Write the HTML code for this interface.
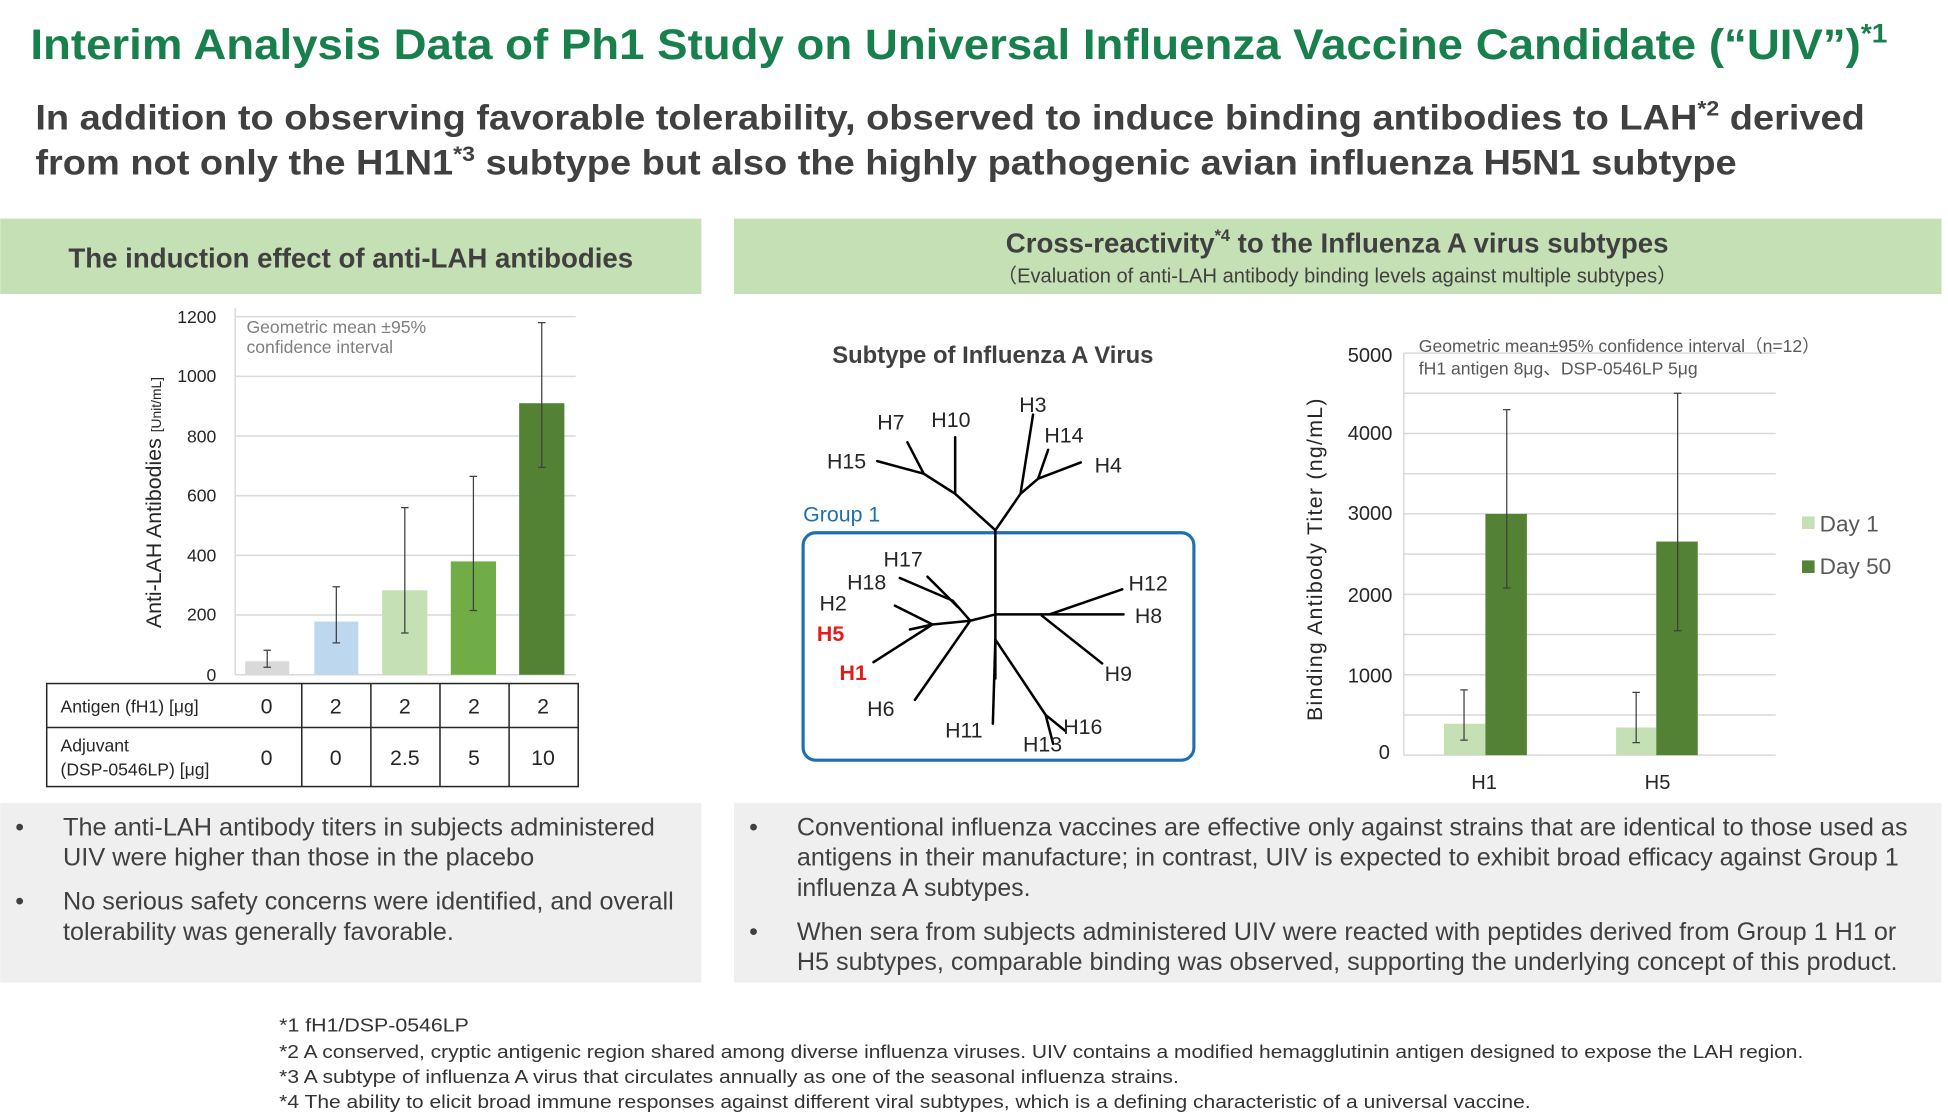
<!DOCTYPE html>
<html><head><meta charset="utf-8"><style>
html,body{margin:0;padding:0;background:#fff;}
svg{display:block;}
text{font-family:"Liberation Sans","Noto Sans CJK JP",sans-serif;}
</style></head><body>
<svg width="1948" height="1112" viewBox="0 0 1550 885" xmlns="http://www.w3.org/2000/svg">
<rect width="1550" height="885" fill="#fff"/>
<!-- Title -->
<text x="24" y="47" font-size="34" font-weight="bold" fill="#17804c" textLength="1478" lengthAdjust="spacingAndGlyphs">Interim Analysis Data of Ph1 Study on Universal Influenza Vaccine Candidate (“UIV”)<tspan font-size="21" dy="-13">*1</tspan></text>
<text x="28" y="103" font-size="28" font-weight="bold" fill="#404040" textLength="1456" lengthAdjust="spacingAndGlyphs">In addition to observing favorable tolerability, observed to induce binding antibodies to LAH<tspan font-size="17" dy="-11">*2</tspan><tspan dy="11"> derived</tspan></text>
<text x="28" y="139" font-size="28" font-weight="bold" fill="#404040" textLength="1354" lengthAdjust="spacingAndGlyphs">from not only the H1N1<tspan font-size="17" dy="-11">*3</tspan><tspan dy="11"> subtype but also the highly pathogenic avian influenza H5N1 subtype</tspan></text>

<!-- Header bands -->
<rect x="0" y="174" width="558" height="60" fill="#c5e0b4"/>
<text x="279" y="213" font-size="22" font-weight="bold" fill="#404040" text-anchor="middle">The induction effect of anti-LAH antibodies</text>
<rect x="584" y="174" width="961" height="60" fill="#c5e0b4"/>
<text x="1064" y="201" font-size="22" font-weight="bold" fill="#404040" text-anchor="middle">Cross-reactivity<tspan font-size="13" dy="-9">*4</tspan><tspan dy="9"> to the Influenza A virus subtypes</tspan></text>
<text x="1064" y="225" font-size="16" fill="#404040" text-anchor="middle">（Evaluation of anti-LAH antibody binding levels against multiple subtypes）</text>

<!-- Left chart -->
<g stroke="#d9d9d9" stroke-width="1.2">
<line x1="187" y1="252" x2="458" y2="252"/><line x1="187" y1="299.5" x2="458" y2="299.5"/>
<line x1="187" y1="347" x2="458" y2="347"/><line x1="187" y1="394.5" x2="458" y2="394.5"/>
<line x1="187" y1="442" x2="458" y2="442"/><line x1="187" y1="489.5" x2="458" y2="489.5"/>
<line x1="187" y1="537" x2="458" y2="537"/><line x1="187" y1="245" x2="187" y2="537"/>
</g>
<g font-size="14" fill="#262626" text-anchor="end">
<text x="172" y="257">1200</text><text x="172" y="304">1000</text><text x="172" y="352">800</text>
<text x="172" y="399">600</text><text x="172" y="447">400</text><text x="172" y="494">200</text><text x="172" y="542">0</text>
</g>
<text transform="translate(128,400) rotate(-90)" font-size="17" fill="#262626" text-anchor="middle">Anti-LAH Antibodies <tspan font-size="11">[Unit/mL]</tspan></text>
<text x="196" y="265" font-size="14" fill="#7f7f7f">Geometric mean ±95%</text>
<text x="196" y="281" font-size="14" fill="#7f7f7f">confidence interval</text>
<rect x="195" y="526.3" width="35" height="10.7" fill="#d9d9d9"/>
<rect x="250" y="494.7" width="35" height="42.3" fill="#bdd7ee"/>
<rect x="304" y="469.8" width="36" height="67.2" fill="#c5e0b4"/>
<rect x="358.6" y="446.8" width="36" height="90.2" fill="#70ad47"/>
<rect x="413" y="320.9" width="36" height="216.1" fill="#548235"/>
<g stroke="#404040" stroke-width="1">
<path d="M212.5 531V517.5M209.5 531h6M209.5 517.5h6"/>
<path d="M267.5 511.6V467M264.5 511.6h6M264.5 467h6"/>
<path d="M322 503.8V404M319 503.8h6M319 404h6"/>
<path d="M376.6 485.9V379.1M373.6 485.9h6M373.6 379.1h6"/>
<path d="M431 372V256.8M428 372h6M428 256.8h6"/>
</g>
<!-- Table -->
<g stroke="#262626" stroke-width="1.2" fill="none">
<rect x="37" y="544" width="423" height="82"/>
<line x1="37" y1="579" x2="460" y2="579"/>
<line x1="240" y1="544" x2="240" y2="626"/><line x1="295" y1="544" x2="295" y2="626"/>
<line x1="350" y1="544" x2="350" y2="626"/><line x1="405" y1="544" x2="405" y2="626"/>
</g>
<g font-size="14" fill="#262626">
<text x="48" y="567">Antigen (fH1) [μg]</text>
<text x="48" y="598">Adjuvant</text><text x="48" y="617">(DSP-0546LP) [μg]</text>
</g>
<g font-size="17" fill="#262626" text-anchor="middle">
<text x="212" y="568">0</text><text x="267" y="568">2</text><text x="322" y="568">2</text><text x="377" y="568">2</text><text x="432" y="568">2</text>
<text x="212" y="609">0</text><text x="267" y="609">0</text><text x="322" y="609">2.5</text><text x="377" y="609">5</text><text x="432" y="609">10</text>
</g>

<!-- Tree -->
<text x="790" y="289" font-size="19" font-weight="bold" fill="#404040" text-anchor="middle">Subtype of Influenza A Virus</text>
<rect x="639" y="424" width="311" height="181" rx="10" fill="none" stroke="#1f6fb0" stroke-width="2.5"/>
<text x="639" y="415" font-size="17" fill="#1f6fb0">Group 1</text>
<g stroke="#000" stroke-width="2" fill="none" stroke-linecap="round">
<path d="M792 422L760 393L735 377L722 352M735 377L698 367M760 393V348"/>
<path d="M792 422L812 393L822 330M812 393L826 381L834 358M826 381L860 368"/>
<path d="M792 422V540M792 489H894M835 489L893 469M829 490L877 528"/>
<path d="M792 489L772 494L742 497L712 482M742 497L724 501M742 497L695 527M772 494L758 478L716 460M762 483L738 459M772 494L728 557"/>
<path d="M792 509L790 576M792 509L832 569L838 592M832 569L848 582"/>
</g>
<g font-size="17" fill="#262626">
<text x="698" y="342">H7</text><text x="741" y="340">H10</text><text x="811" y="328">H3</text>
<text x="831" y="352">H14</text><text x="871" y="376">H4</text><text x="658" y="373">H15</text>
<text x="703" y="451">H17</text><text x="674" y="469">H18</text><text x="652" y="486">H2</text>
<text x="690" y="570">H6</text><text x="752" y="587">H11</text><text x="814" y="598">H13</text>
<text x="846" y="584">H16</text><text x="898" y="470">H12</text><text x="903" y="496">H8</text><text x="879" y="542">H9</text>
<text x="650" y="510" fill="#e31b1b" font-weight="bold">H5</text>
<text x="668" y="541" fill="#e31b1b" font-weight="bold">H1</text>
</g>

<!-- Right chart -->
<g stroke="#d9d9d9" stroke-width="1.2">
<line x1="1117" y1="281" x2="1413" y2="281"/><line x1="1117" y1="313" x2="1413" y2="313"/>
<line x1="1117" y1="345" x2="1413" y2="345"/><line x1="1117" y1="377" x2="1413" y2="377"/>
<line x1="1117" y1="409" x2="1413" y2="409"/><line x1="1117" y1="441" x2="1413" y2="441"/>
<line x1="1117" y1="473" x2="1413" y2="473"/><line x1="1117" y1="505" x2="1413" y2="505"/>
<line x1="1117" y1="537" x2="1413" y2="537"/><line x1="1117" y1="569" x2="1413" y2="569"/>
<line x1="1117" y1="601" x2="1413" y2="601"/><line x1="1117" y1="281" x2="1117" y2="601"/>
</g>
<g font-size="16" fill="#262626" text-anchor="end">
<text x="1108" y="288">5000</text><text x="1108" y="350">4000</text><text x="1108" y="414">3000</text>
<text x="1108" y="479">2000</text><text x="1108" y="543">1000</text><text x="1106" y="604">0</text>
</g>
<text transform="translate(1052,445) rotate(-90)" font-size="17" fill="#262626" text-anchor="middle" letter-spacing="1">Binding Antibody Titer (ng/mL)</text>
<text x="1129" y="280" font-size="14" fill="#595959">Geometric mean±95% confidence interval（n=12）</text>
<text x="1129" y="298" font-size="14" fill="#595959">fH1 antigen 8μg、DSP-0546LP 5μg</text>
<rect x="1149" y="576" width="33" height="25" fill="#c5e0b4"/>
<rect x="1182" y="409" width="33" height="192" fill="#548235"/>
<rect x="1286" y="579" width="32" height="22" fill="#c5e0b4"/>
<rect x="1318" y="431" width="33" height="170" fill="#548235"/>
<g stroke="#404040" stroke-width="1">
<path d="M1165 589V549M1162 589h6M1162 549h6"/>
<path d="M1199 468V326M1196 468h6M1196 326h6"/>
<path d="M1302 591V551M1299 591h6M1299 551h6"/>
<path d="M1335 502V313M1332 502h6M1332 313h6"/>
</g>
<text x="1181" y="628" font-size="16" fill="#262626" text-anchor="middle">H1</text>
<text x="1319" y="628" font-size="16" fill="#262626" text-anchor="middle">H5</text>
<rect x="1434" y="411" width="10" height="10" fill="#c5e0b4"/>
<text x="1448" y="423" font-size="18" fill="#595959">Day 1</text>
<rect x="1434" y="446" width="10" height="10" fill="#548235"/>
<text x="1448" y="457" font-size="18" fill="#595959">Day 50</text>

<!-- Bottom grey bands -->
<rect x="0" y="639" width="558" height="143" fill="#efefef"/>
<rect x="584" y="639" width="961" height="143" fill="#efefef"/>
<g font-size="20" fill="#404040" lengthAdjust="spacingAndGlyphs">
<text x="12" y="665">•</text>
<text x="50" y="665" textLength="471" lengthAdjust="spacingAndGlyphs">The anti-LAH antibody titers in subjects administered</text>
<text x="50" y="689" textLength="375" lengthAdjust="spacingAndGlyphs">UIV were higher than those in the placebo</text>
<text x="12" y="724">•</text>
<text x="50" y="724" textLength="486" lengthAdjust="spacingAndGlyphs">No serious safety concerns were identified, and overall</text>
<text x="50" y="748" textLength="311" lengthAdjust="spacingAndGlyphs">tolerability was generally favorable.</text>
<text x="596" y="665">•</text>
<text x="634" y="665" textLength="884" lengthAdjust="spacingAndGlyphs">Conventional influenza vaccines are effective only against strains that are identical to those used as</text>
<text x="634" y="689" textLength="877" lengthAdjust="spacingAndGlyphs">antigens in their manufacture; in contrast, UIV is expected to exhibit broad efficacy against Group 1</text>
<text x="634" y="713" textLength="186" lengthAdjust="spacingAndGlyphs">influenza A subtypes.</text>
<text x="596" y="748">•</text>
<text x="634" y="748" textLength="875" lengthAdjust="spacingAndGlyphs">When sera from subjects administered UIV were reacted with peptides derived from Group 1 H1 or</text>
<text x="634" y="772" textLength="876" lengthAdjust="spacingAndGlyphs">H5 subtypes, comparable binding was observed, supporting the underlying concept of this product.</text>
</g>

<!-- Footnotes -->
<g font-size="15" fill="#333">
<text x="222" y="821" textLength="151" lengthAdjust="spacingAndGlyphs">*1 fH1/DSP-0546LP</text>
<text x="222" y="842" textLength="1213" lengthAdjust="spacingAndGlyphs">*2 A conserved, cryptic antigenic region shared among diverse influenza viruses. UIV contains a modified hemagglutinin antigen designed to expose the LAH region.</text>
<text x="222" y="862" textLength="716" lengthAdjust="spacingAndGlyphs">*3 A subtype of influenza A virus that circulates annually as one of the seasonal influenza strains.</text>
<text x="222" y="882" textLength="996" lengthAdjust="spacingAndGlyphs">*4 The ability to elicit broad immune responses against different viral subtypes, which is a defining characteristic of a universal vaccine.</text>
</g>
</svg>
</body></html>
